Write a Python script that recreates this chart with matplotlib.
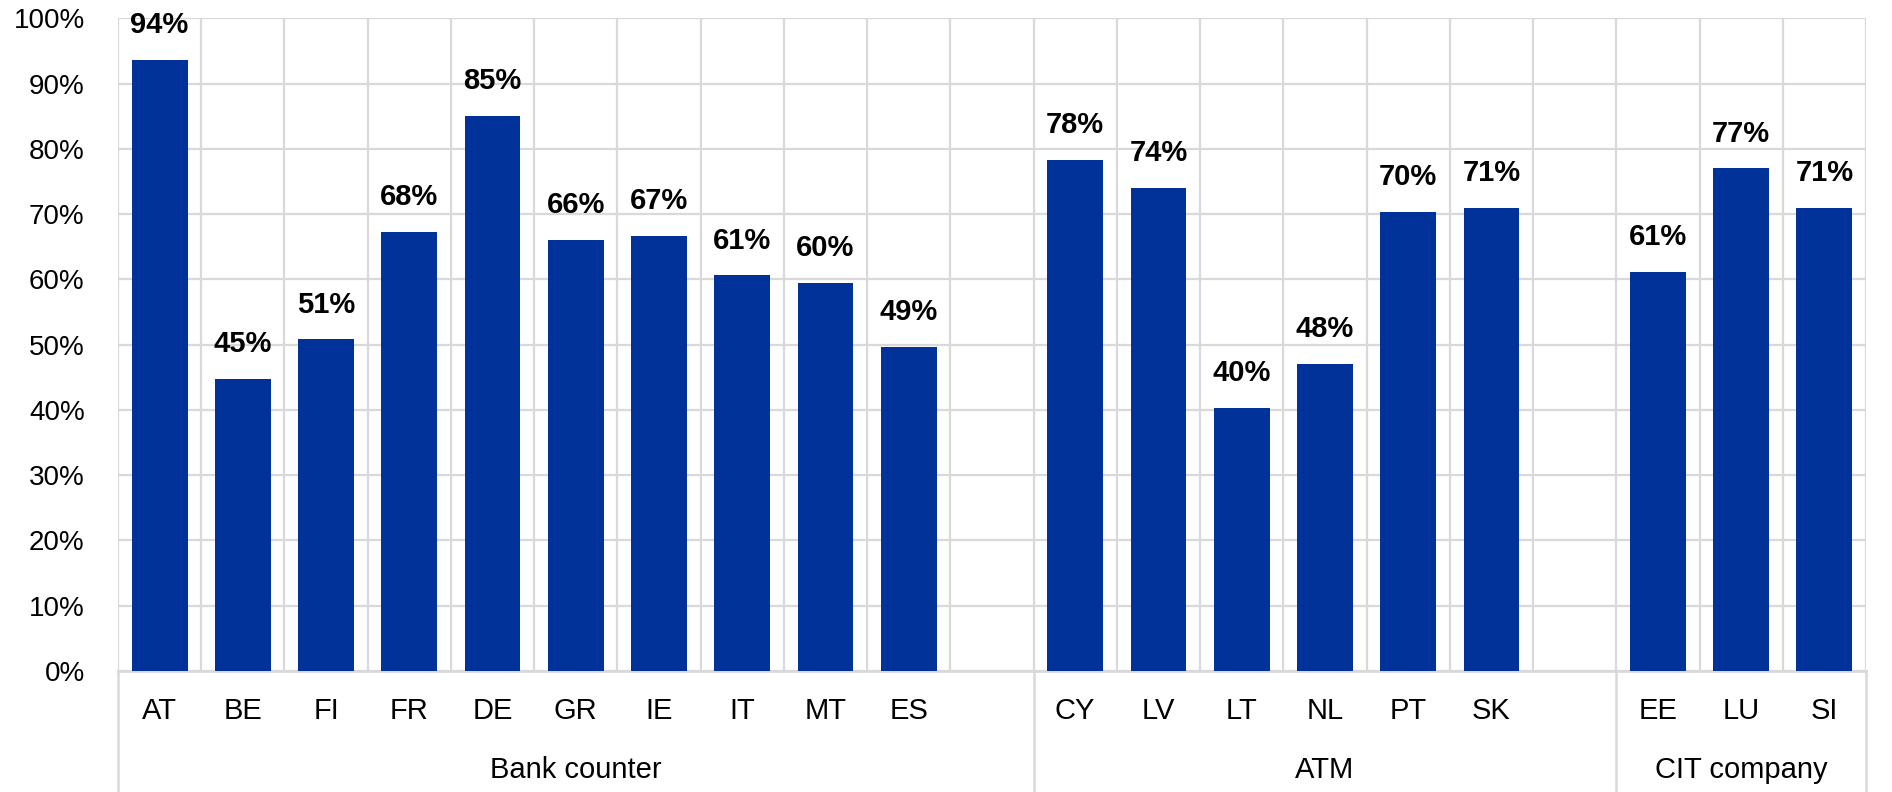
import matplotlib
matplotlib.use("Agg")
import matplotlib.pyplot as plt
from matplotlib.transforms import blended_transform_factory
import numpy as np

plt.rcParams['font.family'] = ['Liberation Sans', 'DejaVu Sans']

# Data
bank_countries = ["AT", "BE", "FI", "FR", "DE", "GR", "IE", "IT", "MT", "ES"]
bank_values = [93.6, 44.7, 50.8, 67.3, 85.1, 66.1, 66.7, 60.6, 59.5, 49.6]
bank_labels = ["94%", "45%", "51%", "68%", "85%", "66%", "67%", "61%", "60%", "49%"]

atm_countries = ["CY", "LV", "LT", "NL", "PT", "SK"]
atm_values = [78.3, 74.0, 40.3, 47.1, 70.3, 70.9]
atm_labels = ["78%", "74%", "40%", "48%", "70%", "71%"]

cit_countries = ["EE", "LU", "SI"]
cit_values = [61.2, 77.0, 70.9]
cit_labels = ["61%", "77%", "71%"]

groups = ["Bank counter", "ATM", "CIT company"]
yticks = [0, 10, 20, 30, 40, 50, 60, 70, 80, 90, 100]

BLUE = "#003299"
GRID = "#d9d9d9"

# positions: each group followed by one empty slot (except last)
group_data = [(bank_countries, bank_values, bank_labels),
              (atm_countries, atm_values, atm_labels),
              (cit_countries, cit_values, cit_labels)]
positions, values, labels, names = [], [], [], []
group_spans = []
start = 0
for gi, (c, v, l) in enumerate(group_data):
    pos = list(range(start, start + len(c)))
    positions += pos
    values += v
    labels += l
    names += c
    nslots = len(c) + (1 if gi < len(group_data) - 1 else 0)
    group_spans.append((start - 0.5, start + nslots - 0.5))
    start += nslots
total_slots = start

fig = plt.figure(figsize=(18.92, 7.92), dpi=100)
ax = fig.add_axes([118/1892, 1 - 671/792, (1866 - 118)/1892, (671 - 18.3)/792])

ax.set_xlim(-0.5, total_slots - 0.5)
ax.set_ylim(0, 100)

# grid
ax.set_yticks(yticks)
ax.set_yticklabels([f"{t}%" for t in yticks])
ax.set_xticks(np.arange(-0.5, total_slots, 1.0), minor=True)
ax.grid(True, which='major', axis='y', color=GRID, linewidth=1.6, zorder=0)
ax.grid(True, which='minor', axis='x', color=GRID, linewidth=1.6, zorder=0)
ax.set_axisbelow(True)

bars = ax.bar(positions, values, width=0.67, color=BLUE, zorder=3)

for x, v, l in zip(positions, values, labels):
    ax.annotate(l, (x, v), xytext=(0, 15), textcoords='offset points',
                ha='center', va='bottom', fontsize=21, fontweight='bold', color='black')

ax.set_xticks(positions)
ax.set_xticklabels(names, fontsize=21)
ax.tick_params(axis='x', which='both', length=0, pad=19)
ax.tick_params(axis='y', which='both', length=0, pad=24, labelsize=20)

for s in ['top', 'right', 'left']:
    ax.spines[s].set_visible(False)
ax.spines['bottom'].set_color(GRID)
ax.spines['bottom'].set_linewidth(2)

# separators below axis
trans = blended_transform_factory(ax.transData, ax.transAxes)
seps = sorted(set([s for sp in group_spans for s in sp]))
for s in seps:
    ax.plot([s, s], [0, -0.3], transform=trans, color=GRID, linewidth=1.8, clip_on=False, zorder=1)

# group labels
trans2 = blended_transform_factory(ax.transData, fig.transFigure)
for g, (a, b) in zip(groups, group_spans):
    ax.text((a + b) / 2, 1 - 778/792, g, transform=trans2, ha='center', va='baseline', fontsize=21)

fig.savefig("out.png", dpi=100)
